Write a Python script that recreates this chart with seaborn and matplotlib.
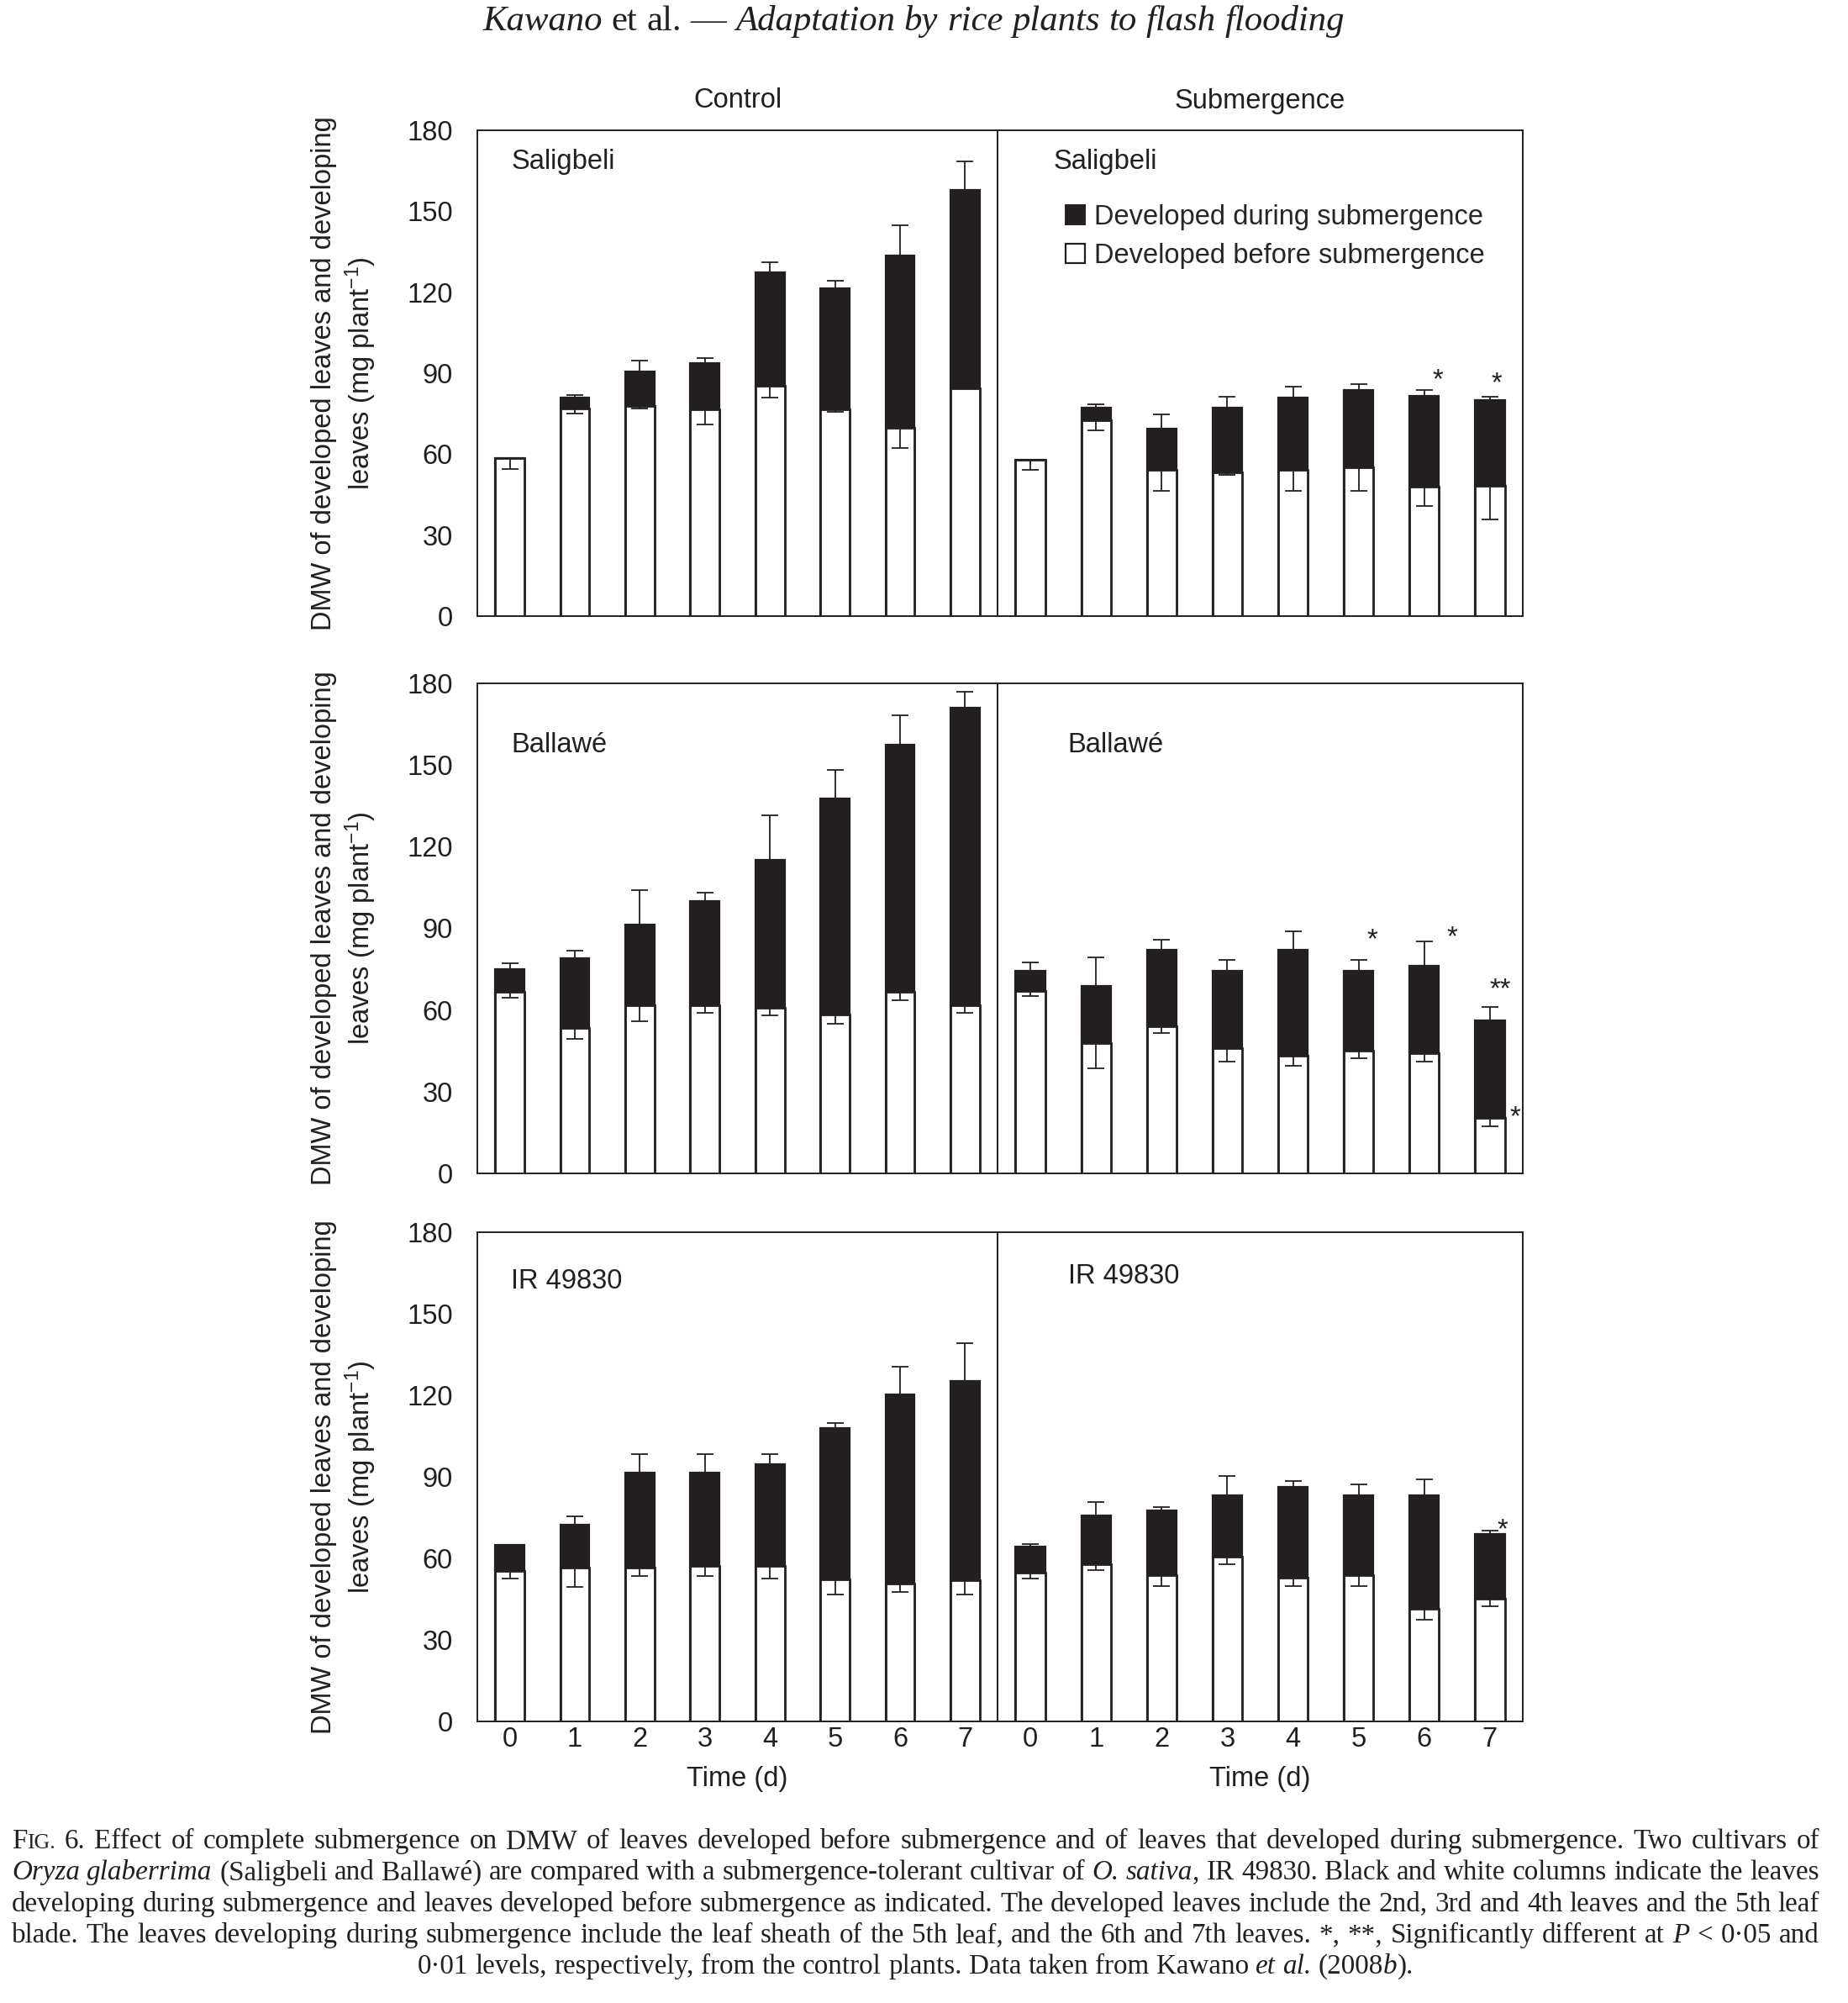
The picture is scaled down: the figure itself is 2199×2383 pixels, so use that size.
import re
import matplotlib
matplotlib.use("Agg")
import matplotlib.pyplot as plt
import seaborn as sns
import pandas as pd
import numpy as np
from matplotlib.patches import Patch

# ---------------- data ----------------
days = [0, 1, 2, 3, 4, 5, 6, 7]
cultivars = ["Saligbeli", "Ballawé", "IR 49830"]
conditions = ["Control", "Submergence"]

sal_ctrl_total = [58.4, 80.9, 90.7, 93.6, 127.5, 121.6, 133.5, 157.9]
sal_ctrl_total_err = [0.0, 1.0, 3.9, 2.0, 3.7, 2.8, 11.3, 10.5]
sal_ctrl_before = [58.4, 76.8, 77.7, 76.7, 85.4, 76.7, 69.8, 84.3]
sal_ctrl_before_err = [3.8, 1.9, 0.8, 5.6, 4.5, 0.9, 7.6, 0.0]

sal_sub_total = [58.0, 77.2, 69.4, 77.2, 81.1, 83.8, 81.6, 80.1]
sal_sub_total_err = [0.0, 1.2, 5.2, 4.2, 4.0, 2.0, 2.2, 1.3]
sal_sub_before = [58.0, 72.7, 54.3, 53.3, 54.1, 55.2, 48.0, 48.4]
sal_sub_before_err = [3.7, 3.9, 7.8, 1.0, 7.6, 8.7, 7.3, 12.6]

bal_ctrl_total = [75.1, 79.0, 91.4, 100.1, 115.2, 137.8, 157.5, 171.0]
bal_ctrl_total_err = [2.0, 2.8, 12.6, 2.9, 16.4, 10.4, 10.7, 5.9]
bal_ctrl_before = [66.7, 53.3, 61.8, 61.8, 60.8, 58.4, 66.7, 61.8]
bal_ctrl_before_err = [2.1, 4.0, 5.8, 2.9, 2.9, 3.4, 3.0, 2.9]

bal_sub_total = [74.4, 68.7, 82.0, 74.4, 82.0, 74.4, 76.4, 56.2]
bal_sub_total_err = [3.1, 10.8, 3.9, 4.0, 6.9, 4.0, 8.7, 5.0]
bal_sub_before = [67.1, 47.9, 53.9, 46.1, 43.2, 45.1, 44.1, 20.3]
bal_sub_before_err = [2.1, 9.4, 2.2, 5.0, 3.8, 2.9, 3.0, 2.9]

ir_ctrl_total = [64.9, 72.5, 91.7, 91.7, 94.5, 107.8, 120.2, 125.3]
ir_ctrl_total_err = [0.0, 2.9, 6.7, 6.7, 3.9, 2.0, 10.4, 13.9]
ir_ctrl_before = [55.3, 56.6, 56.6, 57.2, 57.2, 52.3, 50.7, 52.0]
ir_ctrl_before_err = [2.7, 7.0, 3.2, 3.8, 4.7, 5.6, 3.0, 5.3]

ir_sub_total = [64.3, 75.7, 77.7, 83.3, 86.3, 83.3, 83.3, 69.1]
ir_sub_total_err = [1.0, 4.9, 1.1, 7.0, 2.0, 4.0, 5.8, 1.0]
ir_sub_before = [54.8, 57.8, 53.8, 60.7, 52.9, 53.8, 41.3, 45.1]
ir_sub_before_err = [2.1, 2.1, 3.9, 3.0, 3.0, 3.9, 3.9, 2.8]

panels = {
    (0, 0): (sal_ctrl_total, sal_ctrl_total_err, sal_ctrl_before, sal_ctrl_before_err),
    (0, 1): (sal_sub_total, sal_sub_total_err, sal_sub_before, sal_sub_before_err),
    (1, 0): (bal_ctrl_total, bal_ctrl_total_err, bal_ctrl_before, bal_ctrl_before_err),
    (1, 1): (bal_sub_total, bal_sub_total_err, bal_sub_before, bal_sub_before_err),
    (2, 0): (ir_ctrl_total, ir_ctrl_total_err, ir_ctrl_before, ir_ctrl_before_err),
    (2, 1): (ir_sub_total, ir_sub_total_err, ir_sub_before, ir_sub_before_err),
}

# significance marks: (row, col, day, text, anchor)
sig_marks = [
    (0, 1, 6, "*", "total"), (0, 1, 7, "*", "total"),
    (1, 1, 5, "*", "total"), (1, 1, 6, "*", "total"),
    (1, 1, 7, "**", "total"), (1, 1, 7, "*", "before"),
    (2, 1, 7, "*", "total"),
]
sig_offsets = [(0.2, 3.5), (0.1, 4.6), (0.21, 7.3), (0.42, 1.5), (0.16, 6.1), (0.38, 0.3), (0.19, 0.3)]

legend_labels = ["Developed during submergence", "Developed before submergence"]
ylabel_text = "DMW of developed leaves and developing\nleaves (mg plant$^{-1}$)"
title_line = "_Kawano_ et al. — _Adaptation by rice plants to flash flooding_"
caption_lines = [
    "F~IG.~ 6. Effect of complete submergence on DMW of leaves developed before submergence and of leaves that developed during submergence. Two cultivars of",
    "_Oryza glaberrima_ (Saligbeli and Ballawé) are compared with a submergence-tolerant cultivar of _O. sativa_, IR 49830. Black and white columns indicate the leaves",
    "developing during submergence and leaves developed before submergence as indicated. The developed leaves include the 2nd, 3rd and 4th leaves and the 5th leaf",
    "blade. The leaves developing during submergence include the leaf sheath of the 5th leaf, and the 6th and 7th leaves. *, **, Significantly different at _P_ < 0·05 and",
    "0·01 levels, respectively, from the control plants. Data taken from Kawano _et al._ (2008_b_).",
]

# ---------------- style ----------------
sns.set_theme(style="white")
SANS = ["Liberation Sans", "DejaVu Sans"]
SERIF = ["Liberation Serif", "DejaVu Serif"]
plt.rcParams["font.family"] = SANS
plt.rcParams["mathtext.fontset"] = "custom"
plt.rcParams["mathtext.rm"] = "Liberation Sans"
plt.rcParams["mathtext.it"] = "Liberation Sans:italic"
DARK = "#231f20"
FS = 23.5

W, H = 2199, 2383
fig = plt.figure(figsize=(W / 100, H / 100), dpi=100)
fig.patch.set_facecolor("white")

rows_px = [(155, 733), (813, 1396), (1466, 2048)]
cols_px = [(568, 1187), (1187, 1812)]

label_pos = {
    (0, 0): (0.065, 0.935), (0, 1): (0.107, 0.935),
    (1, 0): (0.065, 0.874), (1, 1): (0.134, 0.874),
    (2, 0): (0.065, 0.900), (2, 1): (0.134, 0.910),
}

axes = {}
for (r, c), (tot, tot_err, bef, bef_err) in panels.items():
    y0, y1 = rows_px[r]
    x0, x1 = cols_px[c]
    ax = fig.add_axes([x0 / W, 1 - y1 / H, (x1 - x0) / W, (y1 - y0) / H])
    axes[(r, c)] = ax
    df = pd.DataFrame({"day": days, "total": tot, "before": bef})
    sns.barplot(data=df, x="day", y="total", color=DARK, saturation=1, width=0.45,
                errorbar=None, edgecolor=DARK, linewidth=1.6, ax=ax)
    sns.barplot(data=df, x="day", y="before", color="white", saturation=1, width=0.45,
                errorbar=None, edgecolor=DARK, linewidth=2.0, ax=ax)
    ax.errorbar(days, tot, yerr=[np.zeros(len(days)), tot_err], fmt="none",
                ecolor=DARK, elinewidth=1.3, capsize=7, capthick=1.3, zorder=5)
    ax.errorbar(days, bef, yerr=[bef_err, np.zeros(len(days))], fmt="none",
                ecolor=DARK, elinewidth=1.3, capsize=7, capthick=1.3, zorder=5)

    ax.set_xlim(-0.5, 7.5)
    ax.set_ylim(0, 180)
    ax.set_yticks(range(0, 181, 30))
    ax.set_xticks(days)
    ax.set_xticks([d + 0.5 for d in days[:-1]], minor=True)
    ax.set_xticklabels([str(d) for d in days])
    ax.tick_params(axis="x", which="major", length=0, labelsize=FS, pad=4,
                   labelbottom=(r == 2), colors=DARK)
    ax.tick_params(axis="x", which="minor", direction="in", length=12, width=1.3, color=DARK)
    ax.tick_params(axis="y", direction="in", length=12, width=1.3, labelsize=FS, pad=21,
                   labelleft=(c == 0), color=DARK, labelcolor=DARK)
    for s in ax.spines.values():
        s.set_linewidth(1.4)
        s.set_color(DARK)
        s.set_visible(True)
    ax.set_ylabel("")
    if r == 2:
        ax.set_xlabel("Time (d)", fontsize=FS, labelpad=12, color=DARK)
    else:
        ax.set_xlabel("")
    lx, ly = label_pos[(r, c)]
    ax.text(lx, ly, cultivars[r], transform=ax.transAxes, fontsize=FS, ha="left",
            va="center", color=DARK)

# significance marks
for (r, c, d, txt, anchor), (dx, dy) in zip(sig_marks, sig_offsets):
    tot, tot_err, bef, bef_err = panels[(r, c)]
    base = tot[d] + tot_err[d] if anchor == "total" else bef[d]
    axes[(r, c)].text(d + dx, base + dy, txt, fontsize=FS, ha="center", va="center",
                      color=DARK, zorder=6)

# legend
handles = [Patch(facecolor=DARK, edgecolor=DARK, linewidth=1.4),
           Patch(facecolor="white", edgecolor=DARK, linewidth=1.6)]
axes[(0, 1)].legend(handles, legend_labels, loc="upper left", bbox_to_anchor=(0.108, 0.87),
                    frameon=False, fontsize=FS, handlelength=0.72, handleheight=0.72,
                    handletextpad=0.35, labelspacing=0.45, borderaxespad=0)

# column headers
for c, name in enumerate(conditions):
    x0, x1 = cols_px[c]
    fig.text((x0 + x1) / 2 / W, 1 - 120 / H, name, fontsize=FS, ha="center", va="center",
             color=DARK)

# y labels
for r in range(3):
    y0, y1 = rows_px[r]
    fig.text(410 / W, 1 - (y0 + y1) / 2 / H, ylabel_text, rotation=90, fontsize=FS,
             ha="center", va="center", multialignment="center", linespacing=1.25, color=DARK)

# ---------------- rich text (title, caption) ----------------
renderer = fig.canvas.get_renderer()


def parse(line):
    words = []
    italic = False
    small = False
    for w in line.split(" "):
        segs = []
        for tok in re.split(r"([_~])", w):
            if tok == "_":
                italic = not italic
            elif tok == "~":
                small = not small
            elif tok:
                segs.append((tok, italic, small))
        words.append(segs)
    return words


def measure(s, size, italic):
    t = fig.text(0, 0, s, fontsize=size, family=SERIF, style="italic" if italic else "normal")
    w = t.get_window_extent(renderer).width
    t.remove()
    return w


def natural_width(line, size):
    words = parse(line)
    tot = sum(measure(s, size * (0.78 if sm else 1), it) for segs in words for s, it, sm in segs)
    sp = measure("a a", size, False) - measure("aa", size, False)
    return tot + sp * (len(words) - 1)


def draw_line(line, x0, x1, base_y, size, mode):
    words = parse(line)
    widths = [[measure(s, size * (0.78 if sm else 1), it) for s, it, sm in segs] for segs in words]
    totals = [sum(ws) for ws in widths]
    sp = measure("a a", size, False) - measure("aa", size, False)
    if mode == "justify":
        gap = (x1 - x0 - sum(totals)) / (len(words) - 1)
        x = x0
    else:
        gap = sp
        nat = sum(totals) + sp * (len(words) - 1)
        x = (x0 + x1) / 2 - nat / 2
    for segs, ws in zip(words, widths):
        for (s, it, sm), w in zip(segs, ws):
            fig.text(x / W, 1 - base_y / H, s, fontsize=size * (0.78 if sm else 1),
                     family=SERIF, style="italic" if it else "normal",
                     ha="left", va="baseline", color=DARK)
            x += w
        x += gap


# title
t_size = 28 * 1024 / natural_width(title_line, 28)
draw_line(title_line, 1087 - 512, 1087 + 512, 36, t_size, "center")

# caption
cx0, cx1 = 14, 2165
cap_size = min(20 * (cx1 - cx0) / natural_width(l, 20) for l in caption_lines[:4])
for i, line in enumerate(caption_lines):
    draw_line(line, cx0, cx1, 2199 + 37.3 * i, cap_size, "justify" if i < 4 else "center")

fig.savefig("out.png", dpi=100, facecolor="white")
